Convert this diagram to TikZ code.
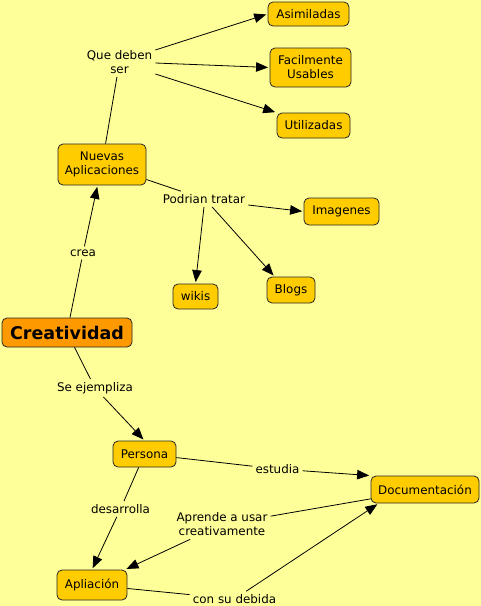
\documentclass[tikz,border=0pt]{standalone}
\usepackage{fontspec}
\setmainfont{DejaVu Sans}
\usetikzlibrary{arrows.meta}
\definecolor{bg}{HTML}{FFFF99}
\definecolor{cfill}{HTML}{FFCC00}
\definecolor{mfill}{HTML}{FF9900}
\tikzset{
  concept/.style={draw=black!85, line width=0.8pt, fill=cfill, rounded corners=5pt,
    inner sep=0pt, align=center, font=\fontsize{11.9}{14}\selectfont},
  lbl/.style={inner sep=3pt, align=center, font=\fontsize{11.9}{14}\selectfont},
  link/.style={draw=black, line width=0.8pt},
  arr/.style={link, -{Triangle[length=12pt,width=9.5pt]}, shorten >=1.5pt},
}
\begin{document}
\begin{tikzpicture}[x=1pt,y=-1pt]
\fill[bg] (0,0) rectangle (481,606);
\useasboundingbox (0,0) rectangle (481,606);

% concepts
\node[concept, minimum width=81pt, minimum height=24pt] (asim) at (308.5,14) {Asimiladas};
\node[concept, minimum width=81pt, minimum height=39pt] (fac) at (310.5,67.5) {Facilmente\\Usables};
\node[concept, minimum width=73pt, minimum height=25pt] (util) at (313.5,125.5) {Utilizadas};
\node[concept, minimum width=88pt, minimum height=41pt] (nuevas) at (102,164.5) {Nuevas\\Aplicaciones};
\node[concept, minimum width=75pt, minimum height=27pt] (img) at (341.5,211.5) {Imagenes};
\node[concept, minimum width=45pt, minimum height=25pt] (wikis) at (195.5,296.5) {wikis};
\node[concept, minimum width=48pt, minimum height=26pt] (blogs) at (291,290) {Blogs};
\node[concept, fill=mfill, minimum width=130pt, minimum height=29pt, font=\fontsize{17.5}{20}\selectfont\bfseries] (crea) at (67,332.5) {Creatividad};
\node[concept, minimum width=63pt, minimum height=26pt] (persona) at (144.5,454) {Persona};
\node[concept, minimum width=108pt, minimum height=27pt] (doc) at (425,489.5) {Documentación};
\node[concept, minimum width=70pt, minimum height=30pt] (apli) at (92,585) {Apliación};

% linking phrases
\node[lbl] (que) at (119.5,62) {Que deben\\ser};
\node[lbl] (pod) at (204,199) {Podrian tratar};
\node[lbl] (creal) at (83,253) {crea};
\node[lbl] (seej) at (95,388) {Se ejempliza};
\node[lbl] (estu) at (277.5,469) {estudia};
\node[lbl] (desa) at (120.5,509) {desarrolla};
\node[lbl] (apre) at (222,524.5) {Aprende a usar\\creativamente};
\node[lbl] (consu) at (234.5,599) {con su debida};

% connectors
\draw[link] (nuevas) -- (que);
\draw[arr] ([yshift=12pt]que.east) -- (asim.west);
\draw[arr] ([yshift=-1pt]que.east) -- (fac.west);
\draw[arr] ([yshift=-12pt]que.east) -- (util.north west);

\draw[link] (nuevas) -- (pod);
\draw[arr] ([yshift=-6pt]pod.east) -- (img.west);
\draw[arr] (pod.south) -- (wikis.north);
\draw[arr] ([xshift=8pt]pod.south) -- ([xshift=8pt]blogs.north west);

\draw[link] (crea) -- (creal);
\draw[arr] (creal) -- (nuevas);

\draw[link] (crea) -- (seej);
\draw[arr] (seej) -- (persona.north);

\draw[link] (persona) -- (estu);
\draw[arr] (estu) -- (doc.north west);

\draw[link] (persona) -- (desa);
\draw[arr] (desa) -- (apli.north);

\draw[link] (doc) -- (apre);
\draw[arr] (apre) -- (apli);

\draw[link] (apli) -- (consu);
\draw[arr] (consu) -- ([xshift=8pt]doc.south west);
\end{tikzpicture}
\end{document}
